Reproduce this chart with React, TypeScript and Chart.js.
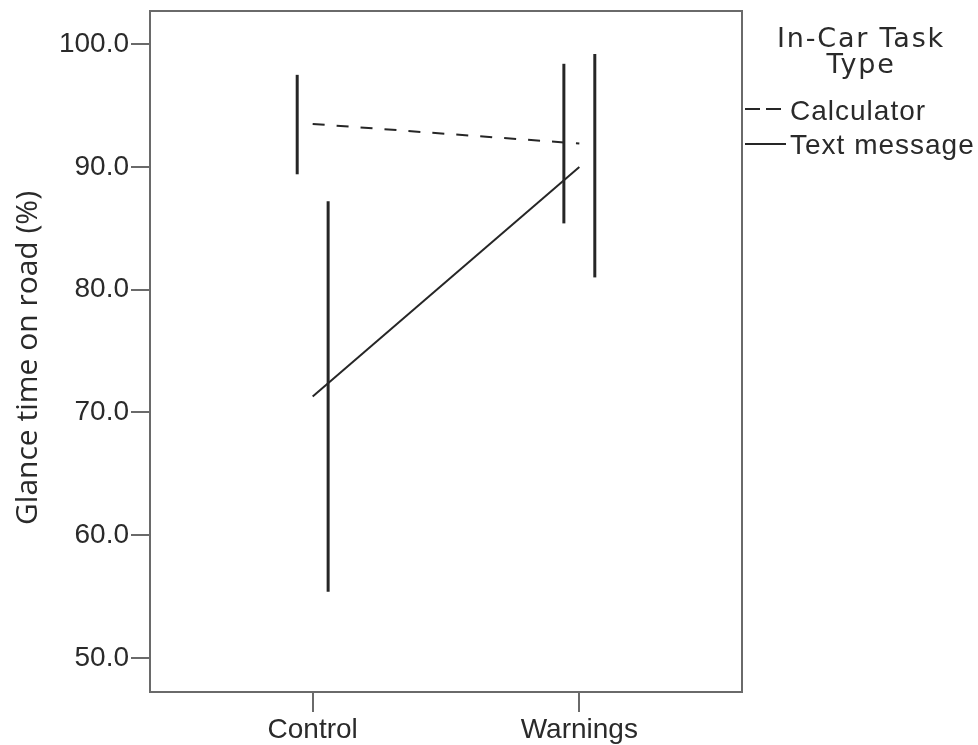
import React, { useEffect, useRef } from 'react';
import { Chart, registerables } from 'chart.js';
Chart.register(...registerables);

const categories = ['Control', 'Warnings'];
const categoryX = [1, 2];
const calculatorMean = [93.5, 91.9];
const textMean = [71.3, 90.0];
const calculatorLow = [89.4, 85.4];
const calculatorHigh = [97.5, 98.4];
const textLow = [55.4, 81.0];
const textHigh = [87.2, 99.2];
const yTicks = [50, 60, 70, 80, 90, 100];
const yTitle = 'Glance time on road (%)';
const legendTitle = ['In-Car Task', 'Type'];
const seriesNames = ['Calculator', 'Text message'];

const BAR_OFFSET = 0.058;
const INK = '#262626';
const AXIS = '#6a6a6a';
const TEXT = '#2a2a2a';

const framePlugin = {
  id: 'frame',
  afterDraw(chart: any) {
    const { ctx, chartArea: a } = chart;
    ctx.save();
    ctx.strokeStyle = AXIS;
    ctx.lineWidth = 2;
    ctx.beginPath();
    ctx.moveTo(a.left, a.top);
    ctx.lineTo(a.right, a.top);
    ctx.lineTo(a.right, a.bottom);
    ctx.stroke();
    ctx.restore();
  },
};

const titlePlugin = {
  id: 'yTitle',
  afterDraw(chart: any) {
    const { ctx } = chart;
    ctx.save();
    ctx.fillStyle = TEXT;
    ctx.font = '30px "Open Sans"';
    ctx.textAlign = 'center';
    ctx.textBaseline = 'alphabetic';
    ctx.translate(37, 358);
    ctx.rotate(-Math.PI / 2);
    ctx.fillText(yTitle, 0, 0);
    ctx.restore();
  },
};

const legendPlugin = {
  id: 'customLegend',
  afterDraw(chart: any) {
    const { ctx } = chart;
    ctx.save();
    ctx.fillStyle = TEXT;
    ctx.font = '27px "DejaVu Sans"';
    (ctx as any).letterSpacing = '1.8px';
    ctx.textAlign = 'center';
    ctx.textBaseline = 'alphabetic';
    const titleBase = [47, 73];
    legendTitle.forEach((t, i) => ctx.fillText(t, 861, titleBase[i]));

    ctx.font = '28px "Liberation Sans"';
    (ctx as any).letterSpacing = '1px';
    ctx.textAlign = 'left';
    ctx.textBaseline = 'alphabetic';
    const ys = [109, 144];
    const bases = [120, 154];
    const dashes = [[15, 6], []];
    seriesNames.forEach((name, i) => {
      ctx.strokeStyle = INK;
      ctx.lineWidth = 2;
      ctx.setLineDash(dashes[i]);
      ctx.beginPath();
      ctx.moveTo(745, ys[i]);
      ctx.lineTo(786, ys[i]);
      ctx.stroke();
      ctx.setLineDash([]);
      ctx.fillText(name, 790, bases[i]);
    });
    ctx.restore();
  },
};

export default function App() {
  const ref = useRef<HTMLCanvasElement>(null);
  useEffect(() => {
    if (!ref.current) return;
    const errorBars: any[] = [];
    categoryX.forEach((x, i) => {
      errorBars.push({
        label: 'calc-err-' + i,
        data: [
          { x: x - BAR_OFFSET, y: calculatorLow[i] },
          { x: x - BAR_OFFSET, y: calculatorHigh[i] },
        ],
        borderColor: INK,
        borderWidth: 3,
        pointRadius: 0,
      });
      errorBars.push({
        label: 'text-err-' + i,
        data: [
          { x: x + BAR_OFFSET, y: textLow[i] },
          { x: x + BAR_OFFSET, y: textHigh[i] },
        ],
        borderColor: INK,
        borderWidth: 3,
        pointRadius: 0,
      });
    });
    const chart = new Chart(ref.current, {
      type: 'line',
      data: {
        datasets: [
          ...errorBars,
          {
            label: seriesNames[0],
            data: categoryX.map((x, i) => ({ x, y: calculatorMean[i] })),
            borderColor: INK,
            borderWidth: 2,
            borderDash: [12, 12],
            pointRadius: 0,
          },
          {
            label: seriesNames[1],
            data: categoryX.map((x, i) => ({ x, y: textMean[i] })),
            borderColor: INK,
            borderWidth: 2,
            pointRadius: 0,
          },
        ],
      },
      options: {
        animation: false,
        responsive: true,
        maintainAspectRatio: false,
        layout: { padding: { top: 11, right: 236, left: 0, bottom: 0 } },
        plugins: {
          legend: { display: false },
          tooltip: { enabled: false },
        },
        scales: {
          x: {
            type: 'linear',
            min: 0.39,
            max: 2.61,
            afterFit: (s: any) => {
              s.height = 53;
              s.paddingLeft = 0;
              s.paddingRight = 0;
            },
            afterBuildTicks: (s: any) => { s.ticks = categoryX.map((v) => ({ value: v })); },
            grid: { drawOnChartArea: false, drawTicks: true, tickLength: 20, color: AXIS, lineWidth: 2 },
            border: { display: true, color: AXIS, width: 2 },
            ticks: {
              padding: 1,
              color: TEXT,
              font: { family: 'Liberation Sans', size: 28 },
              callback: (v: any) => categories[categoryX.indexOf(Number(v))] ?? '',
            },
          },
          y: {
            type: 'linear',
            min: 47.23,
            max: 102.7,
            afterFit: (s: any) => {
              s.width = 150;
              s.paddingTop = 0;
              s.paddingBottom = 0;
            },
            afterBuildTicks: (s: any) => { s.ticks = yTicks.map((v) => ({ value: v })); },
            grid: { drawOnChartArea: false, drawTicks: true, tickLength: 19, color: AXIS, lineWidth: 2 },
            border: { display: true, color: AXIS, width: 2 },
            ticks: {
              padding: 2,
              color: TEXT,
              font: { family: 'Liberation Sans', size: 28 },
              callback: (v: any) => Number(v).toFixed(1),
            },
          },
        },
      },
      plugins: [framePlugin, titlePlugin, legendPlugin],
    });
    return () => chart.destroy();
  }, []);
  return (
    <div style={{ position: 'absolute', left: 0, top: 0, width: 978, height: 745 }}>
      <canvas ref={ref} />
    </div>
  );
}
